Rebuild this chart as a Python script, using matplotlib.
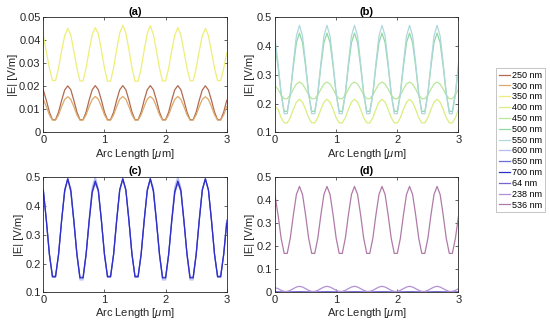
import numpy as np
import matplotlib
matplotlib.use("Agg")
import matplotlib.pyplot as plt

plt.rcParams['font.family'] = ['Liberation Sans', 'DejaVu Sans']
plt.rcParams['mathtext.fontset'] = 'custom'
plt.rcParams['mathtext.it'] = 'Liberation Sans:italic'

# arc length samples, 0..3 um
x = np.linspace(0, 3, 61)

# (a) field magnitude [V/m]
e250 = [0.0184, 0.0139, 0.0088, 0.0055, 0.0055, 0.0088, 0.0139, 0.0184, 0.0202,
        0.0185, 0.0139, 0.0088, 0.0055, 0.0055, 0.0088, 0.0140, 0.0185, 0.0203,
        0.0185, 0.0140, 0.0088, 0.0055, 0.0055, 0.0088, 0.0140, 0.0185, 0.0203,
        0.0185, 0.0140, 0.0088, 0.0055, 0.0055, 0.0088, 0.0140, 0.0185, 0.0203,
        0.0185, 0.0140, 0.0088, 0.0055, 0.0055, 0.0088, 0.0140, 0.0185, 0.0203,
        0.0185, 0.0139, 0.0088, 0.0055, 0.0055, 0.0088, 0.0139, 0.0184, 0.0202,
        0.0184, 0.0139, 0.0088, 0.0055, 0.0055, 0.0088, 0.0139]
e300 = [0.0143, 0.0112, 0.0076, 0.0053, 0.0053, 0.0076, 0.0112, 0.0143, 0.0155,
        0.0143, 0.0112, 0.0076, 0.0053, 0.0053, 0.0076, 0.0112, 0.0143, 0.0156,
        0.0144, 0.0112, 0.0076, 0.0053, 0.0053, 0.0076, 0.0112, 0.0144, 0.0156,
        0.0144, 0.0112, 0.0076, 0.0053, 0.0053, 0.0076, 0.0112, 0.0144, 0.0156,
        0.0144, 0.0112, 0.0076, 0.0053, 0.0053, 0.0076, 0.0112, 0.0143, 0.0156,
        0.0143, 0.0112, 0.0076, 0.0053, 0.0053, 0.0076, 0.0112, 0.0143, 0.0155,
        0.0143, 0.0112, 0.0076, 0.0053, 0.0053, 0.0076, 0.0112]
e350 = [0.0420, 0.0350, 0.0279, 0.0225, 0.0225, 0.0279, 0.0355, 0.0420, 0.0452,
        0.0422, 0.0352, 0.0279, 0.0223, 0.0223, 0.0279, 0.0356, 0.0425, 0.0455,
        0.0428, 0.0358, 0.0279, 0.0222, 0.0222, 0.0280, 0.0360, 0.0432, 0.0465,
        0.0432, 0.0360, 0.0280, 0.0222, 0.0222, 0.0279, 0.0358, 0.0430, 0.0463,
        0.0425, 0.0355, 0.0279, 0.0223, 0.0223, 0.0279, 0.0355, 0.0422, 0.0455,
        0.0422, 0.0352, 0.0279, 0.0224, 0.0224, 0.0279, 0.0353, 0.0420, 0.0452,
        0.0420, 0.0350, 0.0279, 0.0225, 0.0225, 0.0279, 0.0345]

# (b)
e400 = [0.190, 0.180, 0.151, 0.133, 0.133, 0.151, 0.180, 0.205, 0.215,
        0.205, 0.180, 0.151, 0.133, 0.133, 0.151, 0.180, 0.205, 0.215,
        0.205, 0.180, 0.151, 0.133, 0.133, 0.151, 0.180, 0.205, 0.215,
        0.205, 0.180, 0.151, 0.133, 0.133, 0.151, 0.180, 0.205, 0.215,
        0.205, 0.180, 0.151, 0.133, 0.133, 0.151, 0.180, 0.205, 0.215,
        0.205, 0.180, 0.151, 0.133, 0.133, 0.151, 0.180, 0.205, 0.215,
        0.205, 0.180, 0.151, 0.133, 0.133, 0.151, 0.180]
e450 = [0.262, 0.250, 0.230, 0.217, 0.217, 0.230, 0.250, 0.268, 0.275,
        0.268, 0.250, 0.230, 0.217, 0.217, 0.230, 0.250, 0.268, 0.275,
        0.268, 0.250, 0.230, 0.217, 0.217, 0.230, 0.250, 0.268, 0.275,
        0.268, 0.250, 0.230, 0.217, 0.217, 0.230, 0.250, 0.268, 0.275,
        0.268, 0.250, 0.230, 0.217, 0.217, 0.230, 0.250, 0.268, 0.275,
        0.268, 0.250, 0.230, 0.217, 0.217, 0.230, 0.250, 0.268, 0.275,
        0.268, 0.250, 0.230, 0.217, 0.217, 0.230, 0.250]
e500 = [0.400, 0.329, 0.235, 0.173, 0.173, 0.235, 0.329, 0.412, 0.445,
        0.412, 0.329, 0.235, 0.173, 0.173, 0.235, 0.329, 0.412, 0.445,
        0.412, 0.329, 0.235, 0.173, 0.173, 0.235, 0.329, 0.412, 0.445,
        0.412, 0.329, 0.235, 0.173, 0.173, 0.235, 0.329, 0.412, 0.445,
        0.412, 0.329, 0.235, 0.173, 0.173, 0.235, 0.329, 0.412, 0.445,
        0.412, 0.329, 0.235, 0.173, 0.173, 0.235, 0.329, 0.412, 0.445,
        0.412, 0.329, 0.235, 0.173, 0.173, 0.235, 0.329]
e550 = [0.425, 0.341, 0.234, 0.165, 0.165, 0.234, 0.341, 0.435, 0.472,
        0.435, 0.341, 0.234, 0.165, 0.165, 0.234, 0.341, 0.435, 0.472,
        0.435, 0.341, 0.234, 0.165, 0.165, 0.234, 0.341, 0.435, 0.472,
        0.435, 0.341, 0.234, 0.165, 0.165, 0.234, 0.341, 0.435, 0.472,
        0.435, 0.341, 0.234, 0.165, 0.165, 0.234, 0.341, 0.435, 0.472,
        0.435, 0.341, 0.234, 0.165, 0.165, 0.234, 0.341, 0.435, 0.472,
        0.435, 0.341, 0.234, 0.165, 0.165, 0.234, 0.341]

# (c)
e600 = [0.458, 0.351, 0.230, 0.152, 0.152, 0.230, 0.351, 0.458, 0.495,
        0.462, 0.351, 0.228, 0.143, 0.143, 0.228, 0.355, 0.465, 0.502,
        0.458, 0.351, 0.230, 0.152, 0.152, 0.230, 0.351, 0.458, 0.495,
        0.458, 0.351, 0.230, 0.152, 0.152, 0.230, 0.351, 0.458, 0.495,
        0.462, 0.351, 0.228, 0.143, 0.143, 0.228, 0.355, 0.465, 0.502,
        0.462, 0.351, 0.228, 0.143, 0.143, 0.228, 0.351, 0.458, 0.495,
        0.458, 0.351, 0.230, 0.152, 0.152, 0.230, 0.351]
e650 = [0.455, 0.350, 0.233, 0.156, 0.156, 0.233, 0.350, 0.450, 0.493,
        0.450, 0.345, 0.233, 0.152, 0.152, 0.233, 0.345, 0.445, 0.480,
        0.452, 0.350, 0.233, 0.156, 0.156, 0.233, 0.350, 0.455, 0.493,
        0.455, 0.350, 0.233, 0.156, 0.156, 0.233, 0.350, 0.452, 0.493,
        0.450, 0.345, 0.233, 0.152, 0.152, 0.233, 0.345, 0.445, 0.480,
        0.450, 0.345, 0.233, 0.152, 0.152, 0.233, 0.350, 0.455, 0.493,
        0.455, 0.350, 0.233, 0.156, 0.156, 0.233, 0.350]
e700 = [0.456, 0.350, 0.232, 0.154, 0.154, 0.232, 0.350, 0.454, 0.495,
        0.454, 0.348, 0.232, 0.150, 0.150, 0.232, 0.348, 0.450, 0.487,
        0.454, 0.350, 0.232, 0.154, 0.154, 0.232, 0.350, 0.456, 0.495,
        0.456, 0.350, 0.232, 0.154, 0.154, 0.232, 0.350, 0.454, 0.495,
        0.454, 0.348, 0.232, 0.150, 0.150, 0.232, 0.348, 0.450, 0.487,
        0.454, 0.348, 0.232, 0.150, 0.150, 0.232, 0.350, 0.456, 0.495,
        0.456, 0.350, 0.232, 0.154, 0.154, 0.232, 0.340]

# (d)
e64 = [0.0025, 0.0022, 0.0018, 0.0015, 0.0015, 0.0018, 0.0022, 0.0025, 0.0027,
       0.0025, 0.0022, 0.0018, 0.0015, 0.0015, 0.0018, 0.0022, 0.0025, 0.0027,
       0.0025, 0.0022, 0.0018, 0.0015, 0.0015, 0.0018, 0.0022, 0.0025, 0.0027,
       0.0025, 0.0022, 0.0018, 0.0015, 0.0015, 0.0018, 0.0022, 0.0025, 0.0027,
       0.0025, 0.0022, 0.0018, 0.0015, 0.0015, 0.0018, 0.0022, 0.0025, 0.0027,
       0.0025, 0.0022, 0.0018, 0.0015, 0.0015, 0.0018, 0.0022, 0.0025, 0.0027,
       0.0025, 0.0022, 0.0018, 0.0015, 0.0015, 0.0018, 0.0022]
e238 = [0.0200, 0.0159, 0.0085, 0.0037, 0.0037, 0.0085, 0.0159, 0.0228, 0.0260,
        0.0228, 0.0159, 0.0085, 0.0037, 0.0037, 0.0085, 0.0159, 0.0228, 0.0260,
        0.0228, 0.0159, 0.0085, 0.0037, 0.0037, 0.0085, 0.0159, 0.0228, 0.0260,
        0.0228, 0.0159, 0.0085, 0.0037, 0.0037, 0.0085, 0.0159, 0.0228, 0.0260,
        0.0228, 0.0159, 0.0085, 0.0037, 0.0037, 0.0085, 0.0159, 0.0228, 0.0260,
        0.0228, 0.0159, 0.0085, 0.0037, 0.0037, 0.0085, 0.0159, 0.0228, 0.0260,
        0.0228, 0.0159, 0.0085, 0.0037, 0.0037, 0.0085, 0.0159]
e536 = [0.420, 0.336, 0.235, 0.169, 0.169, 0.235, 0.336, 0.425, 0.460,
        0.425, 0.336, 0.235, 0.169, 0.169, 0.235, 0.336, 0.425, 0.460,
        0.425, 0.336, 0.235, 0.169, 0.169, 0.235, 0.336, 0.425, 0.460,
        0.425, 0.336, 0.235, 0.169, 0.169, 0.235, 0.336, 0.425, 0.460,
        0.425, 0.336, 0.235, 0.169, 0.169, 0.235, 0.336, 0.425, 0.460,
        0.425, 0.336, 0.235, 0.169, 0.169, 0.235, 0.336, 0.425, 0.460,
        0.425, 0.336, 0.235, 0.169, 0.169, 0.235, 0.330]

labels = ['250 nm', '300 nm', '350 nm', '400 nm', '450 nm', '500 nm', '550 nm',
          '600 nm', '650 nm', '700 nm', '64 nm', '238 nm', '536 nm']
colors = ['#b06a50', '#dcaa6a', '#eeee78', '#d8ee80', '#b8e89a', '#92d8a6', '#b0d8dc',
          '#b6bef0', '#6c6cd8', '#2e2ec8', '#7464d4', '#b290d8', '#b07aa8']
series = [e250, e300, e350, e400, e450, e500, e550, e600, e650, e700, e64, e238, e536]
panel_of = [0, 0, 0, 1, 1, 1, 1, 2, 2, 2, 3, 3, 3]

titles = ['(a)', '(b)', '(c)', '(d)']
ylims = [(0, 0.05), (0.1, 0.5), (0.1, 0.5), (0, 0.5)]
yticks = [[0, 0.01, 0.02, 0.03, 0.04, 0.05],
          [0.1, 0.2, 0.3, 0.4, 0.5],
          [0.1, 0.2, 0.3, 0.4, 0.5],
          [0, 0.1, 0.2, 0.3, 0.4, 0.5]]
ytl = [['0', '0.01', '0.02', '0.03', '0.04', '0.05'],
       ['0.1', '0.2', '0.3', '0.4', '0.5'],
       ['0.1', '0.2', '0.3', '0.4', '0.5'],
       ['0', '0.1', '0.2', '0.3', '0.4', '0.5']]

fig = plt.figure(figsize=(5.5, 3.26), dpi=100)
pos = [[0.0787, 0.594, 0.3336, 0.353],
       [0.5, 0.594, 0.3336, 0.353],
       [0.0787, 0.1034, 0.3336, 0.353],
       [0.5, 0.1034, 0.3336, 0.353]]
axes = [fig.add_axes(p) for p in pos]

grey = '#262626'
handles = []
for s, lab, c, k in zip(series, labels, colors, panel_of):
    h, = axes[k].plot(x, s, color=c, lw=0.9, label=lab)
    handles.append(h)

for k, ax in enumerate(axes):
    ax.set_xlim(0, 3)
    ax.set_ylim(*ylims[k])
    ax.set_xticks([0, 1, 2, 3])
    ax.set_xticklabels(['0', '1', '2', '3'])
    ax.set_yticks(yticks[k])
    ax.set_yticklabels(ytl[k])
    ax.tick_params(direction='in', length=2.5, width=0.5, labelsize=8,
                   colors=grey, top=True, right=True, pad=2)
    for sp in ax.spines.values():
        sp.set_linewidth(0.6)
        sp.set_color(grey)
    ax.set_title(titles[k], fontsize=8, fontweight='bold', pad=2)
    ax.set_xlabel(r'Arc Length [$\mu$m]', fontsize=8, labelpad=1, color=grey)
    ax.set_ylabel('|E| [V/m]', fontsize=8, labelpad=1, color=grey)

leg = fig.legend(handles=handles, labels=labels, loc='upper left',
                 bbox_to_anchor=(0.902, 0.791), fontsize=6.5, frameon=True,
                 fancybox=False, handlelength=1.2, handletextpad=0.25,
                 labelspacing=0.2, borderpad=0.3, borderaxespad=0)
leg.get_frame().set_edgecolor('#aaaaaa')
leg.get_frame().set_linewidth(0.6)

fig.savefig('out.png', dpi=100)
